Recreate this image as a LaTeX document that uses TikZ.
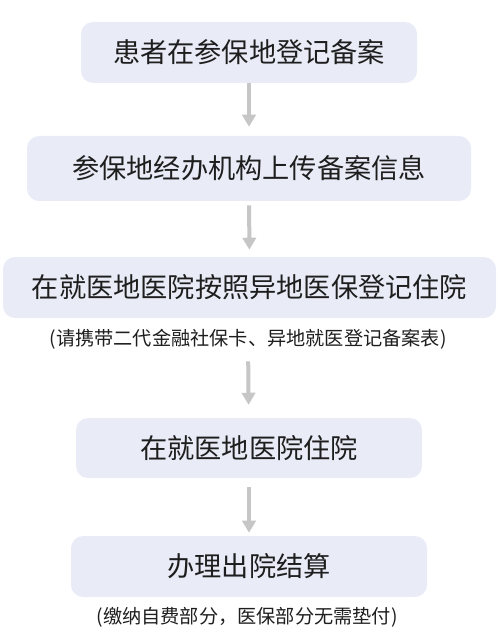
\documentclass[tikz,border=0pt]{standalone}
\usepackage{xcolor}
\usepackage{fontspec}
\setmainfont{Noto Sans CJK SC}
\usetikzlibrary{arrows.meta}

\definecolor{boxfill}{HTML}{E9ECF7}
\definecolor{arrowgray}{HTML}{C6C6C6}
\definecolor{textdark}{HTML}{1E1E1E}

\begin{document}
\begin{tikzpicture}[x=0.75pt, y=-0.75pt,
    every node/.style={fill=boxfill, rounded corners=9pt, align=center, inner sep=0pt, text=textdark, font=\fontsize{20.4}{24}\selectfont},
    flow/.style={-{Triangle[width=10pt, length=9pt]}, line width=3pt, draw=arrowgray}]
                    \useasboundingbox (0,0) rectangle (500,641);

                    % Steps, placed at explicit coordinates
                    \node (Register)  at (249,52.5)   [minimum width=252pt, minimum height=45.75pt] {患者在参保地登记备案};
                    \node (Upload)    at (249,168.5)  [minimum width=333pt, minimum height=48.75pt] {参保地经办机构上传备案信息};
                    \node (Admit)     at (249.5,287.5) [minimum width=369.75pt, minimum height=45.75pt] {在就医地医院按照异地医保登记住院};
                    \node (Stay)      at (249,448)    [minimum width=259.5pt, minimum height=45pt] {在就医地医院住院};
                    \node (Settle)    at (249,566.5)  [minimum width=267pt, minimum height=45.75pt] {办理出院结算};

                    % Notes under the steps
                    \node (CardNote)  [fill=none, font=\fontsize{14.4}{17}\selectfont] at (248,339) {(请携带二代金融社保卡、异地就医登记备案表)};
                    \node (PayNote)   [fill=none, font=\fontsize{14.4}{17}\selectfont] at (247,617) {(缴纳自费部分，医保部分无需垫付)};

                    % Arrows
                    \draw[flow, shorten >=6.75pt] (Register) -- (Upload);
                    \draw[flow, shorten <=3pt, shorten >=5.25pt] (Upload) -- (Admit);
                    \draw[flow, shorten <=9pt, shorten >=9.75pt] (CardNote) -- (Stay);
                    \draw[flow, shorten <=6.75pt, shorten >=2.25pt] (Stay) -- (Settle);
                \end{tikzpicture}
\end{document}
